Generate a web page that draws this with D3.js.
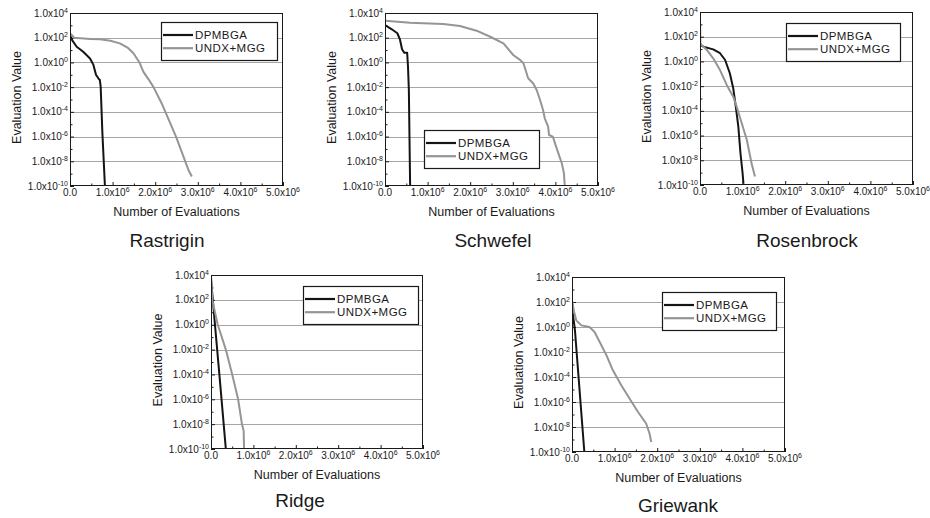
<!DOCTYPE html>
<html><head><meta charset="utf-8">
<script src="https://cdn.jsdelivr.net/npm/d3@7"></script>
<style>
body{margin:0;background:#fff}
text{font-family:"Liberation Sans",Arial,Helvetica,sans-serif;fill:#1a1a1a}
</style>
</head><body>
<svg id="chart" width="930" height="518"></svg>
<script>
// ---------------- data ----------------
const seriesNames = ["DPMBGA", "UNDX+MGG"];
const functionNames = ["Rastrigin", "Schwefel", "Rosenbrock", "Ridge", "Griewank"];
const xTickValues = [0, 1e6, 2e6, 3e6, 4e6, 5e6];
const xTickMantissas = ["0.0", "1.0", "2.0", "3.0", "4.0", "5.0"];
const xTickExponent = "6";
const yTickExponents = [4, 2, 0, -2, -4, -6, -8, -10];
const yTickMantissa = "1.0";
const xAxisTitle = "Number of Evaluations";
const yAxisTitle = "Evaluation Value";

// Rastrigin
const rastriginDpmbgaX = [0, 0.05e6, 0.157e6, 0.31e6, 0.47e6, 0.55e6, 0.61e6, 0.665e6, 0.70e6, 0.72e6, 0.76e6, 0.82e6];
const rastriginDpmbgaY = [1.66e2, 6.3e1, 1.86e1, 7.4e0, 2.1e0, 6.3e-1, 1.0e-1, 5.2e-2, 3.8e-2, 1.1e-2, 2.0e-6, 1.0e-10];
const rastriginUndxX = [0, 0.1e6, 0.47e6, 0.70e6, 0.95e6, 1.17e6, 1.35e6, 1.49e6, 1.63e6, 1.72e6, 1.84e6, 1.96e6, 2.15e6, 2.35e6, 2.50e6, 2.62e6, 2.78e6, 2.86e6];
const rastriginUndxY = [2.3e2, 1.0e2, 7.9e1, 7.6e1, 5.6e1, 3.5e1, 1.6e1, 5.5e0, 1.0e0, 1.8e-1, 4.5e-2, 1.0e-2, 5.0e-4, 1.3e-5, 7.9e-7, 6.0e-8, 2.0e-9, 5.8e-10];

// Schwefel
const schwefelDpmbgaX = [0, 0.16e6, 0.29e6, 0.35e6, 0.40e6, 0.45e6, 0.52e6, 0.54e6, 0.56e6, 0.59e6];
const schwefelDpmbgaY = [1.07e3, 4.8e2, 2.3e2, 7.4e1, 1.15e1, 6.2e0, 6.2e0, 4.5e-1, 5.9e-3, 1.0e-10];
const schwefelUndxX = [0, 0.59e6, 1.37e6, 1.76e6, 2.15e6, 2.47e6, 2.78e6, 3.01e6, 3.17e6, 3.25e6, 3.36e6, 3.48e6, 3.56e6, 3.64e6, 3.71e6, 3.75e6, 3.83e6, 3.85e6, 3.94e6, 4.03e6, 4.15e6, 4.20e6, 4.22e6];
const schwefelUndxY = [2.4e3, 1.66e3, 1.29e3, 8.9e2, 3.7e2, 1.2e2, 3.5e1, 4.0e0, 1.6e0, 8.5e-1, 5.2e-2, 2.0e-2, 5.9e-3, 9.1e-4, 1.4e-4, 3.0e-5, 6.3e-6, 1.35e-6, 1.0e-6, 1.1e-7, 6.9e-9, 1.1e-9, 1.0e-10];

// Rosenbrock
const rosenbrockDpmbgaX = [0, 0.005e6, 0.08e6, 0.31e6, 0.47e6, 0.59e6, 0.70e6, 0.78e6, 0.84e6, 0.90e6, 0.95e6, 1.0e6, 1.02e6];
const rosenbrockDpmbgaY = [3.1e3, 2.1e1, 1.55e1, 9.5e0, 4.6e0, 1.3e0, 1.1e-1, 6.8e-3, 2.2e-4, 5.2e-6, 3.7e-8, 8.9e-10, 1.26e-10];
const rosenbrockUndxX = [0, 0.16e6, 0.31e6, 0.47e6, 0.63e6, 0.78e6, 0.86e6, 0.98e6, 1.10e6, 1.21e6, 1.29e6];
const rosenbrockUndxY = [2.95e1, 8.5e0, 1.8e0, 2.0e-1, 1.2e-2, 1.4e-3, 2.2e-4, 1.0e-5, 4.4e-7, 5.8e-9, 4.8e-10];

// Ridge
const ridgeDpmbgaX = [0, 0.094e6, 0.20e6, 0.35e6];
const ridgeDpmbgaY = [5.0e3, 9.5e-1, 7.9e-5, 1.0e-10];
const ridgeUndxX = [0, 0.03e6, 0.16e6, 0.35e6, 0.50e6, 0.64e6, 0.73e6, 0.77e6, 0.78e6];
const ridgeUndxY = [1.0e4, 1.0e2, 1.0e0, 1.0e-2, 1.0e-4, 1.0e-6, 1.0e-8, 3.0e-9, 1.0e-10];

// Griewank
const griewankDpmbgaX = [0, 0.02e6, 0.06e6, 0.07e6, 0.29e6];
const griewankDpmbgaY = [1.0e2, 1.0e1, 1.0e0, 5.0e-1, 1.0e-10];
const griewankUndxX = [0, 0.05e6, 0.10e6, 0.22e6, 0.41e6, 0.53e6, 0.65e6, 0.81e6, 0.96e6, 1.16e6, 1.35e6, 1.55e6, 1.74e6, 1.82e6, 1.86e6];
const griewankUndxY = [1.35e2, 1.6e1, 3.4e0, 1.35e0, 1.0e0, 4.0e-1, 6.3e-2, 5.4e-3, 3.4e-4, 2.1e-5, 1.9e-6, 1.6e-7, 1.9e-8, 3.0e-9, 6.3e-10];

const panelData = [
  [[rastriginDpmbgaX, rastriginDpmbgaY], [rastriginUndxX, rastriginUndxY]],
  [[schwefelDpmbgaX, schwefelDpmbgaY], [schwefelUndxX, schwefelUndxY]],
  [[rosenbrockDpmbgaX, rosenbrockDpmbgaY], [rosenbrockUndxX, rosenbrockUndxY]],
  [[ridgeDpmbgaX, ridgeDpmbgaY], [ridgeUndxX, ridgeUndxY]],
  [[griewankDpmbgaX, griewankDpmbgaY], [griewankUndxX, griewankUndxY]]
];

// ---------------- layout & style ----------------
const layout = [
  {plot: [70, 13, 213, 173], legend: [161, 22, 116, 38], title: [167, 247]},
  {plot: [385, 13, 213, 173], legend: [424, 130, 115, 38], title: [493, 247]},
  {plot: [700, 12, 213, 173], legend: [786, 23, 114, 38], title: [807, 247]},
  {plot: [211, 275, 212, 174], legend: [303, 286, 115, 38], title: [300, 507]},
  {plot: [572, 277, 213, 175], legend: [662, 292, 114, 38], title: [678, 512]}
];
const seriesColors = ["#141414", "#959595"];
const gridColor = "#a6a6a6";

const svg = d3.select("#chart");

function sciLabel(sel, mantissa, exp) {
  sel.append("tspan").text(mantissa + "x10");
  sel.append("tspan").attr("dy", -4).attr("font-size", 7).text(exp);
}

functionNames.forEach((name, i) => {
  const [px, py, pw, ph] = layout[i].plot;
  const g = svg.append("g");
  const x = d3.scaleLinear().domain([0, 5e6]).range([px, px + pw]);
  const y = d3.scaleLog().domain([1e-10, 1e4]).range([py + ph, py]);

  const clipId = "clip" + i;
  svg.append("clipPath").attr("id", clipId).append("rect")
    .attr("x", px).attr("y", py).attr("width", pw).attr("height", ph);

  // gridlines (interior even decades)
  g.selectAll(".grid").data(yTickExponents.slice(1, -1)).join("line")
    .attr("x1", px).attr("x2", px + pw)
    .attr("y1", e => Math.round(y(Math.pow(10, e))) + 0.5)
    .attr("y2", e => Math.round(y(Math.pow(10, e))) + 0.5)
    .attr("stroke", gridColor).attr("stroke-width", 1);

  // inward ticks via d3 axes
  const xMajor = d3.axisBottom(x).tickValues(xTickValues).tickSize(-4).tickFormat("");
  const xMinor = d3.axisBottom(x).tickValues(d3.range(0.5e6, 5e6, 1e6)).tickSize(-2.5).tickFormat("");
  const decades = d3.range(-10, 5).map(e => Math.pow(10, e));
  const yMajor = d3.axisLeft(y).tickValues(decades.filter((d, k) => k % 2 === 0)).tickSize(-4).tickFormat("");
  const yMinor = d3.axisLeft(y).tickValues(decades.filter((d, k) => k % 2 === 1)).tickSize(-2.5).tickFormat("");
  [[xMajor, "x"], [xMinor, "x"], [yMajor, "y"], [yMinor, "y"]].forEach(([ax, t]) => {
    const a = g.append("g")
      .attr("transform", t === "x" ? `translate(0,${py + ph})` : `translate(${px},0)`)
      .call(ax);
    a.select(".domain").remove();
    a.selectAll("line").attr("stroke", "#1a1a1a");
  });

  // series lines
  const line = d3.line().x(d => x(d[0])).y(d => y(d[1]));
  panelData[i].forEach((s, k) => {
    const pts = s[0].map((v, j) => [v, s[1][j]]);
    g.append("path").datum(pts)
      .attr("d", line)
      .attr("fill", "none")
      .attr("stroke", seriesColors[k])
      .attr("stroke-width", 2)
      .attr("stroke-linejoin", "round")
      .attr("clip-path", `url(#${clipId})`);
  });

  // frame
  g.append("rect").attr("x", px + 0.5).attr("y", py + 0.5)
    .attr("width", pw - 1).attr("height", ph - 1)
    .attr("fill", "none").attr("stroke", "#1a1a1a").attr("stroke-width", 1);

  // x tick labels
  xTickValues.forEach((v, k) => {
    const t = g.append("text").attr("x", x(v)).attr("y", py + ph + 9.5)
      .attr("text-anchor", "middle").attr("font-size", 10);
    if (v === 0) t.text(xTickMantissas[k]);
    else sciLabel(t, xTickMantissas[k], xTickExponent);
  });

  // y tick labels
  yTickExponents.forEach(e => {
    const t = g.append("text").attr("x", px - 2).attr("y", y(Math.pow(10, e)) + 3.5)
      .attr("text-anchor", "end").attr("font-size", 10);
    sciLabel(t, yTickMantissa, String(e));
  });

  // axis titles
  g.append("text").attr("x", px + pw / 2).attr("y", py + ph + 30)
    .attr("text-anchor", "middle").attr("font-size", 12.5).text(xAxisTitle);
  g.append("text")
    .attr("transform", `translate(${px - 49},${py + ph / 2 - 2}) rotate(-90)`)
    .attr("text-anchor", "middle").attr("font-size", 12.5).text(yAxisTitle);

  // legend
  const [lx, ly, lw, lh] = layout[i].legend;
  g.append("rect").attr("x", lx + 0.5).attr("y", ly + 0.5).attr("width", lw).attr("height", lh)
    .attr("fill", "#fff").attr("stroke", "#1a1a1a").attr("stroke-width", 1.2);
  seriesNames.forEach((sn, k) => {
    const cy = ly + 13 + k * 13.2;
    g.append("line").attr("x1", lx + 2).attr("x2", lx + 32).attr("y1", cy).attr("y2", cy)
      .attr("stroke", seriesColors[k]).attr("stroke-width", 2.2);
    g.append("text").attr("x", lx + 34).attr("y", cy + 4)
      .attr("font-size", 11.5).attr("textLength", sn.length > 6 ? 70 : 52)
      .attr("lengthAdjust", "spacing").text(sn);
  });

  // panel title
  g.append("text").attr("x", layout[i].title[0]).attr("y", layout[i].title[1])
    .attr("text-anchor", "middle").attr("font-size", 19).text(name);
});
</script>
</body></html>
